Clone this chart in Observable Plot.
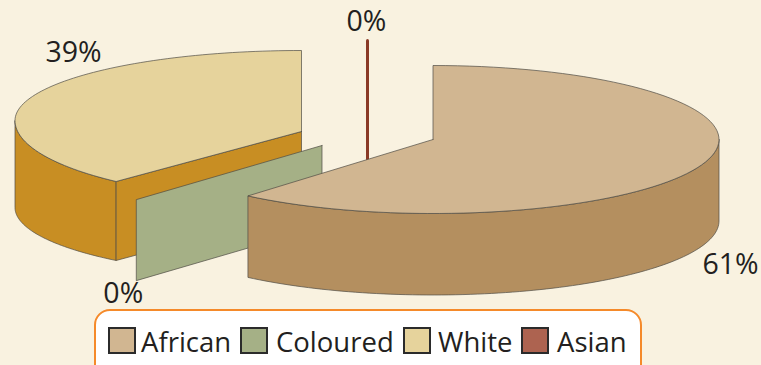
<!DOCTYPE html>
<html>
<head>
<meta charset="utf-8">
<script src="https://cdn.jsdelivr.net/npm/d3@7"></script>
<script src="https://cdn.jsdelivr.net/npm/@observablehq/plot@0.6"></script>
<style>
  html, body { margin: 0; padding: 0; background: #f9f2e0; width: 761px; height: 365px; overflow: hidden; }
  #chart { position: relative; width: 761px; height: 365px; overflow: hidden; font-family: "Open Sans", sans-serif; color: #231f20; }
  #chart svg { display: block; }
  #legend { position: absolute; left: 94px; top: 309px; width: 544px; height: 70px; background: #fff; border: 2px solid #f58a2a; border-radius: 16px; }
  .item { position: absolute; top: 16px; height: 28px; font-size: 27.5px; line-height: 28px; white-space: nowrap; }
  .swatch { position: absolute; left: 0; top: 0; width: 24px; height: 23px; border: 2px solid #2b2b2b; }
  .label { position: absolute; top: 1px; }
</style>
</head>
<body>
<div id="chart"></div>
<script>
// Data
const categories = ["African", "Coloured", "White", "Asian"];
const shares = [61.2, 0, 38.8, 0];
const topColors = ["#d1b691", "#a5b086", "#e6d39c", "#8a3a26"];
const sideColors = ["#b48f5f", "#a5b086", "#c88e23", "#8a3a26"];
const swatchColors = ["#d1b691", "#a5b086", "#e6d39c", "#ad6350"];

// Layout of each exploded slice: apex, ellipse and base ellipse
const layout = {
  African:  {vx: 432.5, vy: 139, ecy: 139, rx: 286, ryTop: 74, ryBot: 74, depth: 81.5, ryBase: 74, dx: 29, dy: 100},
  Coloured: {vx: 321.5, vy: 145, ecy: 145, rx: 287, ryTop: 71, ryBot: 71, depth: 81, ryBase: 71, dx: -13, dy: 94},
  White:    {vx: 301, vy: 131, ecy: 120, rx: 286.5, ryTop: 70, ryBot: 80, depth: 87, ryBase: 69.5, dx: 41, dy: -43},
  Asian:    {vx: 367, vy: 118, ecy: 118, rx: 287, ryTop: 78, ryBot: 78, depth: 81, ryBase: 78, dx: -1, dy: -19}
};
const legendLeft = [108, 240, 403, 521];
const legendText = [33, 36, 35, 36];

// Angles (clockwise from 12 o'clock) follow from the shares
const total = d3.sum(shares);
const cumulative = d3.cumsum(shares);
const slices = categories.map((name, i) => ({
  name, i, share: shares[i],
  a0: (cumulative[i] - shares[i]) / total * 2 * Math.PI,
  a1: cumulative[i] / total * 2 * Math.PI,
  ...layout[name]
}));
const bySlice = Object.fromEntries(slices.map(s => [s.name, s]));

const topAt = (s, a) => {
  const c = Math.cos(a);
  return {x: s.vx + s.rx * Math.sin(a), y: s.ecy - (c > 0 ? s.ryTop : s.ryBot) * c};
};
const baseAt = (s, a) => ({
  x: s.vx + s.rx * Math.sin(a),
  y: s.ecy + s.depth - (Math.cos(a) > 0 ? s.ryTop : s.ryBase) * Math.cos(a)
});
const arc = (a0, a1, n = 90) => d3.range(n + 1).map(k => a0 + (a1 - a0) * k / n);
const closed = pts => [...pts, pts[0]];

const topFace = s => closed([{x: s.vx, y: s.vy}, ...arc(s.a0, s.a1).map(a => topAt(s, a))]);
const sideFace = (s, a0, a1) => closed([
  ...arc(a0, a1).map(a => topAt(s, a)),
  ...arc(a0, a1).reverse().map(a => baseAt(s, a))
]);
const wallFace = (s, a) => {
  const t = topAt(s, a), b = baseAt(s, a), drop = b.y - t.y;
  return closed([{x: s.vx, y: s.vy}, t, b, {x: s.vx, y: s.vy + drop}]);
};

const edge = {stroke: "#4f4c45", strokeWidth: 0.7, strokeLinejoin: "round"};
const face = (pts, fill, extra = {}) => Plot.line(pts, {x: "x", y: "y", fill, ...edge, curve: "linear", ...extra});

const A = bySlice.African, C = bySlice.Coloured, W = bySlice.White, S = bySlice.Asian;
const Q = Math.PI / 2;

const labelMarks = slices.map(s => {
  const mid = (s.a0 + s.a1) / 2;
  const p = s.share > 0 ? topAt(s, mid) : topAt(s, s.a0);
  return Plot.text([{...p, text: Math.round(s.share) + "%"}], {
    x: "x", y: "y", text: "text", dx: s.dx, dy: s.dy,
    fontSize: 28.5, fill: "#231f20", textAnchor: "middle", lineAnchor: "middle",
    fontFamily: '"Open Sans", sans-serif'
  });
});

const plot = Plot.plot({
  width: 761, height: 310,
  margin: 0,
  x: {domain: [0, 761], axis: null},
  y: {domain: [310, 0], axis: null},
  style: {background: "transparent"},
  marks: [
    // Asian: zero share, seen edge on
    Plot.line([topAt(S, S.a1), {x: S.vx, y: S.vy + S.depth}], {x: "x", y: "y", stroke: topColors[3], strokeWidth: 3}),
    // White
    face(sideFace(W, W.a0, 3 * Q), sideColors[2]),
    face(wallFace(W, W.a0), sideColors[2]),
    face(topFace(W), topColors[2]),
    // Coloured: zero share, a flat panel
    face(wallFace(C, C.a0), topColors[1]),
    // African
    face(sideFace(A, Q, A.a1), sideColors[0]),
    face(topFace(A), topColors[0]),
    ...labelMarks
  ]
});

const chart = document.getElementById("chart");
chart.appendChild(plot);

const legend = document.createElement("div");
legend.id = "legend";
categories.forEach((name, i) => {
  const item = document.createElement("div");
  item.className = "item";
  item.style.left = (legendLeft[i] - 96) + "px";
  const sw = document.createElement("div");
  sw.className = "swatch";
  sw.style.background = swatchColors[i];
  const tx = document.createElement("div");
  tx.className = "label";
  tx.style.left = legendText[i] + "px";
  tx.textContent = name;
  item.append(sw, tx);
  legend.appendChild(item);
});
chart.appendChild(legend);
</script>
</body>
</html>
